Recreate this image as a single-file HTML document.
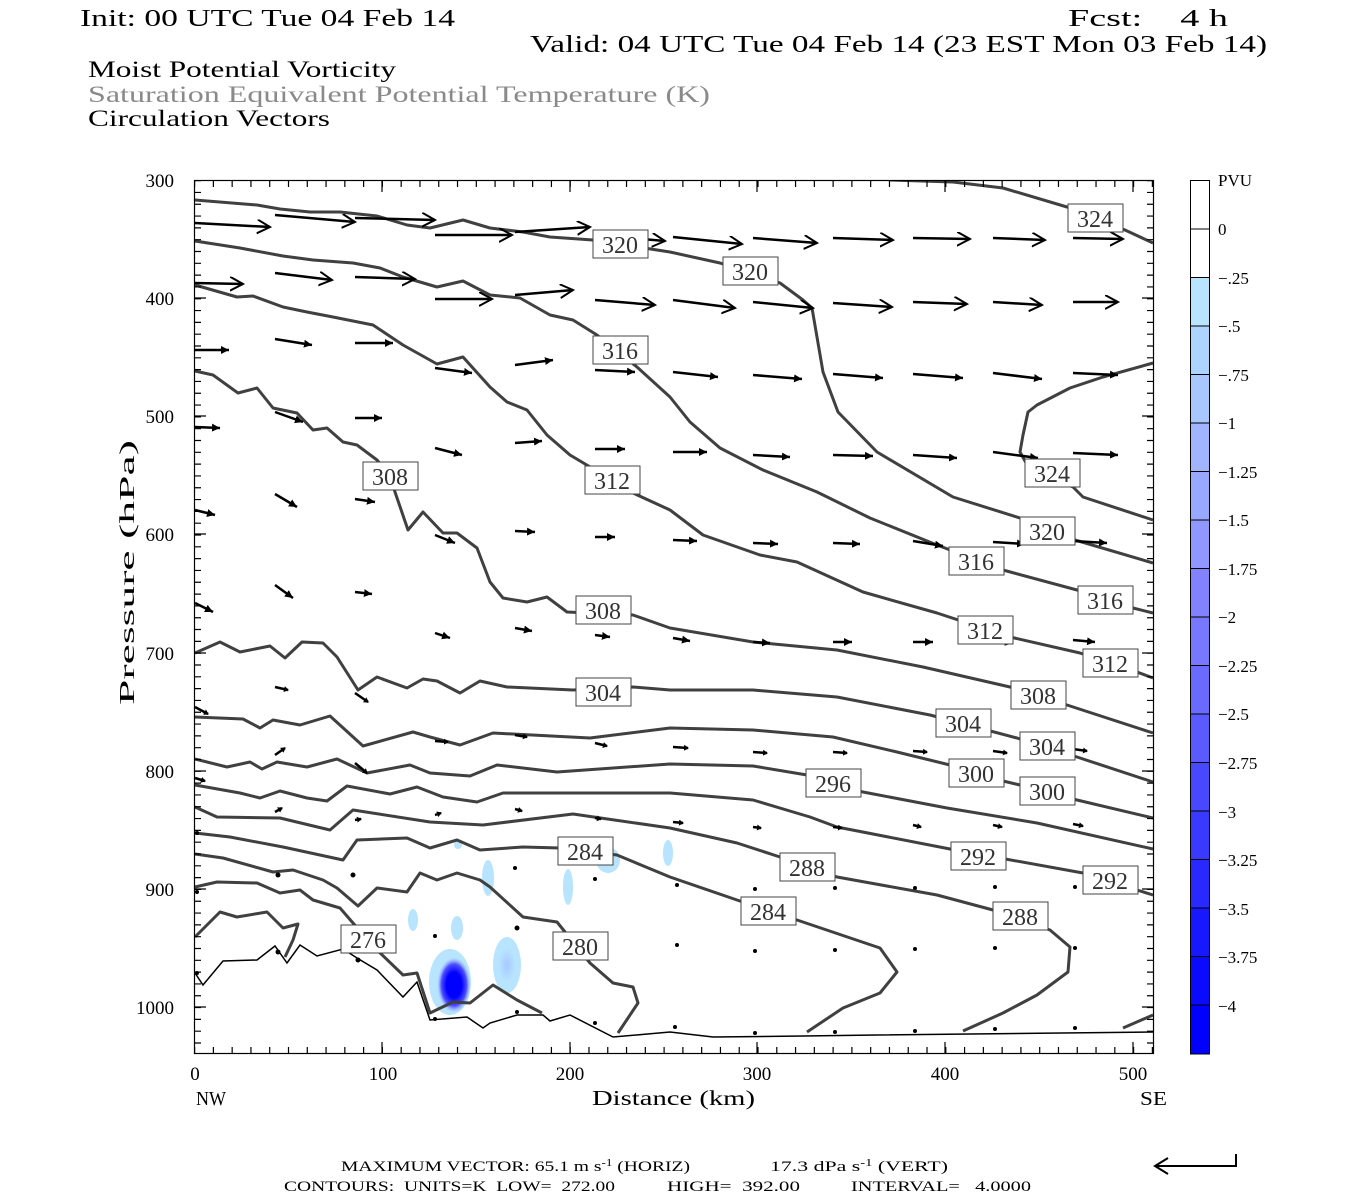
<!DOCTYPE html>
<html><head><meta charset="utf-8"><style>
html,body{margin:0;padding:0;background:#fff;}
svg{display:block;}
text{font-family:"Liberation Serif","DejaVu Serif",serif;}
</style></head><body>
<svg width="1350" height="1200" viewBox="0 0 1350 1200" xmlns="http://www.w3.org/2000/svg">
<defs>
<clipPath id="pc"><rect x="194" y="180" width="960" height="874"/></clipPath>
<marker id="mv" markerUnits="userSpaceOnUse" markerWidth="20" markerHeight="20" refX="13" refY="7" orient="auto"><path d="M0,0 L13,7 L0,14" fill="none" stroke="#000" stroke-width="2"/></marker>
<marker id="mf" markerUnits="userSpaceOnUse" markerWidth="12" markerHeight="12" refX="8" refY="4" orient="auto"><path d="M0,0 L8,4 L0,8 Z" fill="#000"/></marker>
<marker id="md" markerUnits="userSpaceOnUse" markerWidth="8" markerHeight="8" refX="4" refY="3" orient="auto"><path d="M0,0 L5,3 L0,6 Z" fill="#000"/></marker>
<radialGradient id="gcore"><stop offset="0" stop-color="#0000ff"/><stop offset="0.45" stop-color="#0000ff"/><stop offset="0.75" stop-color="#5050ff"/><stop offset="1" stop-color="#a8c8ff" stop-opacity="0"/></radialGradient>
<radialGradient id="glt"><stop offset="0" stop-color="#a8c8ff"/><stop offset="0.6" stop-color="#b8e4ff"/><stop offset="1" stop-color="#b8e4ff"/></radialGradient>
</defs>

<text x="80" y="26" font-size="24" textLength="375" lengthAdjust="spacingAndGlyphs">Init: 00 UTC Tue 04 Feb 14</text>
<text x="1068" y="26" font-size="24" textLength="160" lengthAdjust="spacingAndGlyphs" xml:space="preserve">Fcst:    4 h</text>
<text x="530" y="52" font-size="24" textLength="737" lengthAdjust="spacingAndGlyphs">Valid: 04 UTC Tue 04 Feb 14 (23 EST Mon 03 Feb 14)</text>
<text x="88" y="77" font-size="23" textLength="308" lengthAdjust="spacingAndGlyphs">Moist Potential Vorticity</text>
<text x="88" y="102" font-size="23" fill="#8a8a8a" textLength="622" lengthAdjust="spacingAndGlyphs">Saturation Equivalent Potential Temperature (K)</text>
<text x="88" y="126" font-size="23" textLength="242" lengthAdjust="spacingAndGlyphs">Circulation Vectors</text>

<g clip-path="url(#pc)">
<ellipse cx="488" cy="878" rx="6" ry="18" fill="#b8e4ff"/>
<ellipse cx="457" cy="928" rx="6" ry="12" fill="#b8e4ff"/>
<ellipse cx="413" cy="920" rx="5" ry="11" fill="#b8e4ff"/>
<ellipse cx="507" cy="965" rx="14" ry="28" fill="url(#glt)"/>
<ellipse cx="568" cy="887" rx="5" ry="18" fill="#b8e4ff"/>
<ellipse cx="608" cy="860" rx="12" ry="13" fill="#b8e4ff"/>
<ellipse cx="668" cy="853" rx="5" ry="13" fill="#b8e4ff"/>
<ellipse cx="458" cy="845" rx="4" ry="4" fill="#b8e4ff"/>
<ellipse cx="450" cy="982" rx="21" ry="33" fill="#b8e4ff"/>
<ellipse cx="454" cy="985" rx="17" ry="28" fill="url(#gcore)"/>
</g>

<g clip-path="url(#pc)" fill="none" stroke="#404040" stroke-width="3" stroke-linejoin="round">
<polyline points="890,180 953,182 1003,188 1067,207 1125,230 1153,243"/>
<polyline points="195,200 257,205 280,209 310,212 340,212 377,216 407,225 430,228 463,220 490,228 523,232 550,237 593,240 670,252 720,263 780,283 803,300 812,308 823,372 838,412 877,452 953,497 1020,518 1075,540 1153,563"/>
<polyline points="195,241 240,248 283,256 313,260 353,263 380,268 403,277 437,287 463,281 490,295 520,298 550,315 573,320 597,335 637,367 670,397 690,422 720,448 763,470 817,492 870,518 937,545 1003,570 1077,590 1133,608 1153,613"/>
<polyline points="1153,363 1103,377 1070,388 1037,405 1028,412 1023,435 1020,452 1030,470 1073,487 1083,497 1153,520"/>
<polyline points="195,285 237,297 253,296 283,307 307,312 333,317 373,325 403,345 437,364 463,357 490,387 507,402 527,410 547,435 570,455 612,480 633,493 670,510 703,535 760,555 797,562 863,592 937,613 1010,637 1080,653 1137,672 1153,678"/>
<polyline points="195,371 213,375 238,393 257,388 273,408 297,413 313,430 327,428 343,442 357,445 377,460 390,476 395,492 408,530 423,512 443,533 457,533 477,548 490,582 503,598 527,602 547,597 567,612 633,615 670,628 753,642 837,650 923,667 1010,687 1067,705 1153,733"/>
<polyline points="195,653 220,642 240,652 270,646 285,658 302,642 323,643 337,657 358,690 377,677 407,688 423,679 437,681 460,693 480,681 507,687 573,690 633,687 670,690 753,690 837,697 930,715 1017,738 1077,757 1153,782"/>
<polyline points="195,717 243,719 260,728 273,720 300,725 330,716 363,746 413,732 430,737 460,745 493,733 590,738 670,728 753,730 833,737 897,752 950,765 1003,781 1020,785 1077,800 1153,818"/>
<polyline points="195,759 227,767 250,762 262,769 277,762 307,767 337,759 367,773 410,765 430,773 470,776 497,765 557,772 670,764 753,766 807,775 863,792 947,808 1037,823 1153,849"/>
<polyline points="195,785 240,793 260,798 280,791 307,798 327,801 347,786 390,794 417,787 443,797 477,802 503,793 570,793 670,793 753,800 810,817 837,827 950,849 1083,873 1137,890 1153,895"/>
<polyline points="195,807 217,817 280,818 330,830 353,810 430,822 483,825 573,814 670,828 737,843 780,857 837,877 937,895 993,910 1050,930 1070,947 1068,972 1037,995 1003,1013 963,1031"/>
<polyline points="195,833 230,837 283,847 343,860 357,840 407,838 430,848 457,840 480,850 523,847 560,848 617,855 670,877 737,900 797,920 880,948 897,972 880,993 843,1008 807,1032"/>
<polyline points="195,854 223,858 273,872 293,870 323,880 337,888 358,906 377,888 407,892 420,873 437,880 457,873 480,880 490,887 523,917 557,922 590,963 613,983 633,987 638,1003 618,1033"/>
<polyline points="195,887 217,882 257,883 280,893 300,890 313,900 340,908 353,923 377,950 403,975 417,973 430,1013 453,1002 470,1003 493,985 517,1000 542,1013"/>
<polyline points="195,937 220,912 237,917 267,912 283,928 298,924 293,940 285,957"/>
<polyline points="1123,1028 1153,1015"/>
</g>
<polyline clip-path="url(#pc)" fill="none" stroke="#000" stroke-width="1.5" points="195,973 203,985 223,961 257,960 275,946 287,963 300,945 317,956 343,949 357,958 377,970 403,997 417,982 430,1020 467,1017 483,1028 490,1023 517,1015 543,1015 550,1021 570,1015 613,1037 670,1032 713,1037 803,1036 877,1035 1153,1032"/>

<g stroke="#000" stroke-width="2.5" fill="none" marker-end="url(#mv)">
<line x1="195" y1="223" x2="270" y2="227"/><line x1="275" y1="215" x2="355" y2="222"/><line x1="355" y1="218" x2="435" y2="220"/><line x1="435" y1="235" x2="512" y2="235"/><line x1="515" y1="232" x2="590" y2="227"/><line x1="595" y1="235" x2="665" y2="241"/><line x1="673" y1="237" x2="742" y2="244"/><line x1="753" y1="238" x2="817" y2="243"/><line x1="833" y1="238" x2="893" y2="240"/><line x1="913" y1="238" x2="970" y2="239"/><line x1="993" y1="238" x2="1045" y2="240"/><line x1="1073" y1="238" x2="1123" y2="239"/>
<line x1="195" y1="283" x2="243" y2="284"/><line x1="275" y1="273" x2="332" y2="280"/><line x1="355" y1="277" x2="415" y2="279"/><line x1="435" y1="299" x2="492" y2="299"/><line x1="515" y1="295" x2="573" y2="290"/><line x1="595" y1="300" x2="655" y2="305"/><line x1="673" y1="300" x2="735" y2="308"/><line x1="753" y1="302" x2="813" y2="308"/><line x1="833" y1="303" x2="892" y2="307"/><line x1="913" y1="302" x2="967" y2="304"/><line x1="993" y1="302" x2="1042" y2="305"/><line x1="1073" y1="302" x2="1118" y2="302"/>
</g>
<g stroke="#000" stroke-width="2.5" fill="none" marker-end="url(#mf)">
<line x1="195" y1="350" x2="229" y2="350"/><line x1="275" y1="339" x2="312" y2="345"/><line x1="355" y1="343" x2="393" y2="343"/><line x1="435" y1="368" x2="472" y2="373"/><line x1="515" y1="365" x2="553" y2="360"/><line x1="595" y1="370" x2="635" y2="372"/><line x1="673" y1="372" x2="718" y2="377"/><line x1="753" y1="375" x2="802" y2="379"/><line x1="833" y1="374" x2="883" y2="378"/><line x1="913" y1="374" x2="963" y2="378"/><line x1="993" y1="373" x2="1042" y2="379"/><line x1="1073" y1="373" x2="1118" y2="375"/>
<line x1="195" y1="427" x2="220" y2="428"/><line x1="275" y1="412" x2="303" y2="422"/><line x1="355" y1="418" x2="382" y2="418"/><line x1="435" y1="448" x2="462" y2="455"/><line x1="515" y1="443" x2="542" y2="441"/><line x1="595" y1="449" x2="625" y2="449"/><line x1="673" y1="452" x2="707" y2="452"/><line x1="753" y1="455" x2="790" y2="457"/><line x1="833" y1="455" x2="873" y2="456"/><line x1="913" y1="455" x2="957" y2="458"/><line x1="993" y1="452" x2="1038" y2="458"/><line x1="1073" y1="453" x2="1118" y2="455"/>
<line x1="195" y1="510" x2="215" y2="515"/><line x1="275" y1="494" x2="297" y2="507"/><line x1="355" y1="499" x2="375" y2="502"/><line x1="435" y1="535" x2="455" y2="543"/><line x1="515" y1="531" x2="535" y2="532"/><line x1="595" y1="537" x2="615" y2="537"/><line x1="673" y1="540" x2="697" y2="541"/><line x1="753" y1="543" x2="778" y2="544"/><line x1="833" y1="543" x2="860" y2="544"/><line x1="913" y1="541" x2="943" y2="546"/><line x1="993" y1="542" x2="1025" y2="544"/><line x1="1073" y1="541" x2="1107" y2="543"/>
<line x1="195" y1="603" x2="213" y2="612"/><line x1="275" y1="585" x2="293" y2="598"/><line x1="355" y1="592" x2="372" y2="594"/><line x1="435" y1="633" x2="450" y2="638"/><line x1="515" y1="628" x2="532" y2="631"/><line x1="595" y1="635" x2="610" y2="637"/><line x1="673" y1="638" x2="690" y2="641"/><line x1="753" y1="642" x2="770" y2="643"/><line x1="833" y1="642" x2="852" y2="642"/><line x1="913" y1="642" x2="933" y2="642"/><line x1="993" y1="640" x2="1013" y2="643"/><line x1="1073" y1="640" x2="1095" y2="642"/>
</g>
<g stroke="#000" stroke-width="2.5" fill="none" marker-end="url(#md)">
<line x1="195" y1="707" x2="208" y2="714"/><line x1="275" y1="687" x2="288" y2="690"/><line x1="355" y1="693" x2="368" y2="702"/><line x1="435" y1="741" x2="448" y2="742"/><line x1="515" y1="735" x2="527" y2="737"/><line x1="595" y1="743" x2="607" y2="746"/><line x1="673" y1="747" x2="688" y2="748"/><line x1="753" y1="752" x2="767" y2="753"/><line x1="833" y1="752" x2="847" y2="753"/><line x1="913" y1="751" x2="927" y2="752"/><line x1="993" y1="751" x2="1007" y2="753"/><line x1="1073" y1="749" x2="1087" y2="751"/>
<line x1="195" y1="778" x2="205" y2="781"/><line x1="275" y1="755" x2="285" y2="748"/><line x1="355" y1="763" x2="367" y2="773"/><line x1="275" y1="812" x2="282" y2="808"/><line x1="355" y1="820" x2="361" y2="819"/><line x1="435" y1="815" x2="441" y2="813"/><line x1="515" y1="809" x2="522" y2="811"/><line x1="595" y1="818" x2="601" y2="819"/><line x1="673" y1="822" x2="683" y2="823"/><line x1="753" y1="827" x2="761" y2="828"/><line x1="833" y1="827" x2="842" y2="828"/><line x1="913" y1="825" x2="921" y2="827"/><line x1="993" y1="825" x2="1002" y2="827"/><line x1="1073" y1="824" x2="1083" y2="826"/>
</g>
<g fill="#000">
<circle cx="677" cy="885" r="2"/><circle cx="755" cy="889" r="2"/><circle cx="835" cy="888" r="2"/><circle cx="915" cy="888" r="2"/><circle cx="995" cy="887" r="2"/><circle cx="1075" cy="887" r="2"/>
<circle cx="677" cy="945" r="2"/><circle cx="755" cy="951" r="2"/><circle cx="835" cy="950" r="2"/><circle cx="915" cy="949" r="2"/><circle cx="995" cy="948" r="2"/><circle cx="1075" cy="948" r="2"/>
<circle cx="675" cy="1027" r="2"/><circle cx="755" cy="1033" r="2"/><circle cx="835" cy="1032" r="2"/><circle cx="915" cy="1031" r="2"/><circle cx="995" cy="1029" r="2"/><circle cx="1075" cy="1028" r="2"/>
<circle cx="278" cy="875" r="2.5"/><circle cx="353" cy="875" r="2.5"/><circle cx="515" cy="868" r="2"/><circle cx="595" cy="879" r="2"/><circle cx="435" cy="936" r="2"/><circle cx="517" cy="928" r="2.5"/><circle cx="595" cy="940" r="2.5"/><circle cx="278" cy="952" r="2.5"/><circle cx="358" cy="960" r="2.5"/><circle cx="435" cy="1019" r="2"/><circle cx="517" cy="1012" r="2"/><circle cx="595" cy="1023" r="2"/><circle cx="197" cy="973" r="2"/><circle cx="197" cy="892" r="2"/><circle cx="197" cy="833" r="2"/>
</g>

<g font-size="24" fill="#333" text-anchor="middle">
<g stroke="#444" stroke-width="1" fill="#fff">
<rect x="1068" y="204" width="55" height="28"/><rect x="593" y="230" width="55" height="28"/><rect x="723" y="257" width="55" height="28"/><rect x="593" y="336" width="55" height="28"/><rect x="1025" y="459" width="55" height="28"/><rect x="363" y="462" width="55" height="28"/><rect x="585" y="466" width="55" height="28"/><rect x="1020" y="517" width="55" height="28"/><rect x="949" y="547" width="55" height="28"/><rect x="1078" y="586" width="55" height="28"/><rect x="576" y="596" width="55" height="28"/><rect x="958" y="616" width="55" height="28"/><rect x="1083" y="649" width="55" height="28"/><rect x="576" y="678" width="55" height="28"/><rect x="1011" y="681" width="55" height="28"/><rect x="936" y="709" width="55" height="28"/><rect x="1020" y="732" width="55" height="28"/><rect x="949" y="759" width="55" height="28"/><rect x="806" y="769" width="55" height="28"/><rect x="1020" y="777" width="55" height="28"/><rect x="558" y="837" width="55" height="28"/><rect x="951" y="842" width="55" height="28"/><rect x="780" y="853" width="55" height="28"/><rect x="1083" y="866" width="55" height="28"/><rect x="741" y="897" width="55" height="28"/><rect x="993" y="902" width="55" height="28"/><rect x="341" y="925" width="55" height="28"/><rect x="553" y="932" width="55" height="28"/>
</g>
<text x="1095" y="227">324</text><text x="620" y="253">320</text><text x="750" y="280">320</text><text x="620" y="359">316</text><text x="1052" y="482">324</text><text x="390" y="485">308</text><text x="612" y="489">312</text><text x="1047" y="540">320</text><text x="976" y="570">316</text><text x="1105" y="609">316</text><text x="603" y="619">308</text><text x="985" y="639">312</text><text x="1110" y="672">312</text><text x="603" y="701">304</text><text x="1038" y="704">308</text><text x="963" y="732">304</text><text x="1047" y="755">304</text><text x="976" y="782">300</text><text x="833" y="792">296</text><text x="1047" y="800">300</text><text x="585" y="860">284</text><text x="978" y="865">292</text><text x="807" y="876">288</text><text x="1110" y="889">292</text><text x="768" y="920">284</text><text x="1020" y="925">288</text><text x="368" y="948">276</text><text x="580" y="955">280</text>
</g>

<rect x="194.5" y="180.5" width="959" height="873" fill="none" stroke="#000" stroke-width="1.2"/>
<g stroke="#000" fill="none">
<line x1="197.5" y1="180" x2="197.5" y2="1054" stroke-width="7" stroke-dasharray="1.2 10.614"/>
<line x1="1150.5" y1="180" x2="1150.5" y2="1054" stroke-width="7" stroke-dasharray="1.2 10.614"/>
<line x1="194" y1="1050.5" x2="1154" y2="1050.5" stroke-width="7" stroke-dasharray="1.2 17.58"/>
<line x1="194" y1="183.5" x2="1154" y2="183.5" stroke-width="7" stroke-dasharray="1.2 17.58"/>
<path d="M194,298H206 M194,416H206 M194,534H206 M194,653H206 M194,771H206 M194,889H206 M194,1007H206 M1154,298H1142 M1154,416H1142 M1154,534H1142 M1154,653H1142 M1154,771H1142 M1154,889H1142 M1154,1007H1142 M382,1054V1042 M570,1054V1042 M757,1054V1042 M945,1054V1042 M1133,1054V1042 M382,180V192 M570,180V192 M757,180V192 M945,180V192 M1133,180V192" stroke-width="1.2"/>
</g>

<g font-size="19" text-anchor="end">
<text x="174" y="187">300</text><text x="174" y="305">400</text><text x="174" y="423">500</text><text x="174" y="541">600</text><text x="174" y="660">700</text><text x="174" y="778">800</text><text x="174" y="896">900</text><text x="174" y="1014">1000</text>
</g>
<g font-size="19" text-anchor="middle">
<text x="195" y="1080">0</text><text x="383" y="1080">100</text><text x="570" y="1080">200</text><text x="757" y="1080">300</text><text x="945" y="1080">400</text><text x="1133" y="1080">500</text>
</g>
<text x="196" y="1105" font-size="20" textLength="30" lengthAdjust="spacingAndGlyphs">NW</text>
<text x="592" y="1105" font-size="21" textLength="163" lengthAdjust="spacingAndGlyphs">Distance (km)</text>
<text x="1140" y="1105" font-size="20" textLength="27" lengthAdjust="spacingAndGlyphs">SE</text>
<text transform="translate(134,705) rotate(-90)" font-size="21" textLength="265" lengthAdjust="spacingAndGlyphs">Pressure (hPa)</text>

<g stroke="#000" stroke-width="1">
<rect x="1190.5" y="180.5" width="19" height="48.5" fill="#fff"/>
<rect x="1190.5" y="229" width="19" height="48.5" fill="#fff"/>
<rect x="1190.5" y="277.5" width="19" height="48.5" fill="#b8e4ff"/>
<rect x="1190.5" y="326" width="19" height="48.5" fill="#acd4ff"/>
<rect x="1190.5" y="374.5" width="19" height="48.5" fill="#a8c6ff"/>
<rect x="1190.5" y="423" width="19" height="48.5" fill="#a0b4ff"/>
<rect x="1190.5" y="471.5" width="19" height="48.5" fill="#98a8ff"/>
<rect x="1190.5" y="520" width="19" height="48.5" fill="#9098ff"/>
<rect x="1190.5" y="568.5" width="19" height="48.5" fill="#8282ff"/>
<rect x="1190.5" y="617" width="19" height="48.5" fill="#7878ff"/>
<rect x="1190.5" y="665.5" width="19" height="48.5" fill="#6a6aff"/>
<rect x="1190.5" y="714" width="19" height="48.5" fill="#5a5aff"/>
<rect x="1190.5" y="762.5" width="19" height="48.5" fill="#4848ff"/>
<rect x="1190.5" y="811" width="19" height="48.5" fill="#3a3aff"/>
<rect x="1190.5" y="859.5" width="19" height="48.5" fill="#2828ff"/>
<rect x="1190.5" y="908" width="19" height="48.5" fill="#1818ff"/>
<rect x="1190.5" y="956.5" width="19" height="48.5" fill="#0a0aff"/>
<rect x="1190.5" y="1005" width="19" height="49" fill="#0000ff"/>
</g>
<g font-size="17" style="font-family:'Liberation Sans','DejaVu Sans',sans-serif">
<text x="1218" y="186" style="font-family:'Liberation Serif',serif">PVU</text>
<text x="1218" y="235">0</text><text x="1218" y="284">−.25</text><text x="1218" y="332">−.5</text><text x="1218" y="381">−.75</text><text x="1218" y="429">−1</text><text x="1218" y="478">−1.25</text><text x="1218" y="526">−1.5</text><text x="1218" y="575">−1.75</text><text x="1218" y="623">−2</text><text x="1218" y="672">−2.25</text><text x="1218" y="720">−2.5</text><text x="1218" y="769">−2.75</text><text x="1218" y="818">−3</text><text x="1218" y="866">−3.25</text><text x="1218" y="915">−3.5</text><text x="1218" y="963">−3.75</text><text x="1218" y="1012">−4</text>
</g>

<g font-size="15">
<text x="341" y="1171" textLength="349" lengthAdjust="spacingAndGlyphs">MAXIMUM VECTOR:  65.1 m s<tspan dy="-5" font-size="10">-1</tspan><tspan dy="5"> (HORIZ)</tspan></text>
<text x="770" y="1171" textLength="178" lengthAdjust="spacingAndGlyphs">17.3 dPa s<tspan dy="-5" font-size="10">-1</tspan><tspan dy="5"> (VERT)</tspan></text>
<text x="284" y="1191" textLength="331" lengthAdjust="spacingAndGlyphs" xml:space="preserve">CONTOURS:  UNITS=K  LOW=  272.00</text>
<text x="667" y="1191" textLength="133" lengthAdjust="spacingAndGlyphs" xml:space="preserve">HIGH=  392.00</text>
<text x="851" y="1191" textLength="180" lengthAdjust="spacingAndGlyphs" xml:space="preserve">INTERVAL=   4.0000</text>
</g>
<path d="M1236,1154 V1166 H1156 M1168,1158 L1155,1166 L1168,1174" fill="none" stroke="#000" stroke-width="2"/>
</svg>
</body></html>
